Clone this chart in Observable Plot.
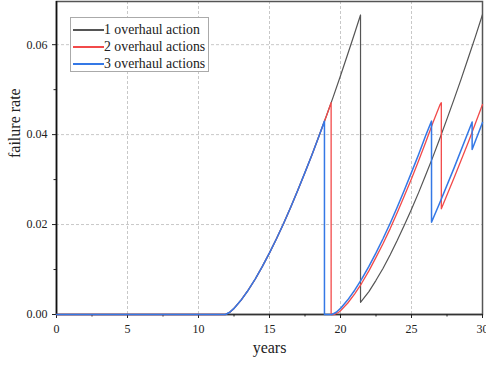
<!DOCTYPE html>
<html>
<head>
<meta charset="utf-8">
<script src="https://cdn.jsdelivr.net/npm/d3@7"></script>
<script src="https://cdn.jsdelivr.net/npm/@observablehq/plot@0.6"></script>
<style>
  html, body { margin: 0; padding: 0; background: white; }
  #wrap { position: relative; width: 486px; height: 365px; font-family: 'Liberation Serif', 'Times New Roman', serif; }
  #legend { position: absolute; left: 70px; top: 17px; width: 137px; height: 53px; border: 1px solid #aaa; background: white; font-size: 13.8px; color: #222; }
  .row { position: absolute; left: 2px; height: 17px; display: flex; align-items: center; white-space: nowrap; }
  .sw { width: 31px; height: 2px; margin-right: 0px; }
</style>
</head>
<body>
<div id="wrap"><div id="legend"></div></div>
<script>
// ----- data -----
const seriesNames = ["1 overhaul action", "2 overhaul actions", "3 overhaul actions"];
const seriesColors = ["#555555", "#f24a4a", "#3478e6"];
const seriesWidths = [1.2, 1.3, 1.5];

const years1 = [0, 11.9, 12.2, 12.5, 13, 13.5, 14, 14.5, 15, 15.5, 16, 16.5, 17, 17.5, 18, 18.5, 19, 19.5, 20, 20.5, 21, 21.41,
                21.41, 22, 22.5, 23, 23.5, 24, 24.5, 25, 25.5, 26, 26.5, 27, 27.5, 28, 28.5, 29, 29.5, 30];
const rate1  = [0, 0, 0.0005, 0.00135, 0.0032, 0.0054, 0.0079, 0.0107, 0.0137, 0.0169, 0.0203, 0.0239, 0.0277, 0.0316, 0.0356, 0.0398, 0.0441, 0.0485, 0.0531, 0.0578, 0.0626, 0.0666,
                0.0027, 0.0051, 0.0076, 0.0103, 0.0133, 0.0165, 0.0199, 0.0234, 0.0271, 0.0310, 0.0350, 0.0392, 0.0435, 0.0479, 0.0524, 0.0571, 0.0618, 0.0667];

const years2 = [0, 11.9, 12.2, 12.5, 13, 13.5, 14, 14.5, 15, 15.5, 16, 16.5, 17, 17.5, 18, 18.5, 19, 19.34,
                19.34, 19.57, 19.87, 20, 20.5, 21, 21.5, 22, 22.5, 23, 23.5, 24, 24.5, 25, 25.5, 26, 26.5, 27, 27.1,
                27.1, 28, 29, 30];
const rate2  = [0, 0, 0.0005, 0.00135, 0.0032, 0.0054, 0.0079, 0.0107, 0.0137, 0.0169, 0.0203, 0.0239, 0.0277, 0.0316, 0.0356, 0.0398, 0.0441, 0.0471,
                0, 0, 0.0005, 0.00085, 0.0025, 0.0046, 0.0070, 0.0097, 0.0127, 0.0158, 0.0191, 0.0227, 0.0264, 0.0302, 0.0342, 0.0383, 0.0426, 0.0466, 0.0471,
                0.0235, 0.0304, 0.0383, 0.0467];

const years3 = [0, 11.9, 12.2, 12.5, 13, 13.5, 14, 14.5, 15, 15.5, 16, 16.5, 17, 17.5, 18, 18.5, 18.87,
                18.87, 19.4, 19.7, 20, 20.5, 21, 21.5, 22, 22.5, 23, 23.5, 24, 24.5, 25, 25.5, 26, 26.41,
                26.41, 27, 28, 29.27,
                29.27, 30];
const rate3  = [0, 0, 0.0005, 0.00135, 0.0032, 0.0054, 0.0079, 0.0107, 0.0137, 0.0169, 0.0203, 0.0239, 0.0277, 0.0316, 0.0356, 0.0398, 0.0430,
                0, 0, 0.0005, 0.00135, 0.0032, 0.0054, 0.0079, 0.0107, 0.0137, 0.0169, 0.0203, 0.0239, 0.0277, 0.0316, 0.0356, 0.0398, 0.0430,
                0.0205, 0.0249, 0.0326, 0.0428,
                0.0367, 0.0427];

const xMajor = [0, 5, 10, 15, 20, 25, 30];
const xMinor = [2.5, 7.5, 12.5, 17.5, 22.5, 27.5];
const yMajor = [0, 0.02, 0.04, 0.06];
const yMinor = [0.01, 0.03, 0.05];
const xGrid = [5, 10, 15, 20, 25];
const yGrid = [0.02, 0.04, 0.06];
const xLabel = "years";
const yLabel = "failure rate";

// ----- build -----
const series = [[years1, rate1], [years2, rate2], [years3, rate3]].map(([t, v], i) =>
  t.map((d, j) => ({t: d, v: v[j], s: seriesNames[i]})));

const serif = "'Liberation Serif', 'Times New Roman', serif";

const chart = Plot.plot({
  width: 486,
  height: 365,
  marginLeft: 56,
  marginRight: 4,
  marginTop: 1,
  marginBottom: 51,
  style: {fontFamily: serif, fontSize: "12px", color: "#222", background: "white"},
  x: {domain: [0, 30]},
  y: {domain: [0, 0.0696]},
  marks: [
    Plot.gridX(xGrid, {stroke: "#c8c8c8", strokeOpacity: 1, strokeDasharray: "3,2"}),
    Plot.gridY(yGrid, {stroke: "#c8c8c8", strokeOpacity: 1, strokeDasharray: "3,2"}),
    Plot.frame({stroke: "#555", strokeWidth: 1.5}),
    Plot.ruleX([0], {stroke: "#111", strokeWidth: 1.6}),
    Plot.ruleY([0], {stroke: "#333", strokeWidth: 1.6}),
    Plot.axisX(xMajor, {tickSize: 4, tickPadding: 6, tickFormat: d => String(d), label: null, stroke: "#222"}),
    Plot.axisX(xMinor, {tickSize: 2.5, tickFormat: () => "", label: null, stroke: "#222"}),
    Plot.axisY(yMajor, {tickSize: 4, tickPadding: 5, tickFormat: d3.format(".2f"), label: null, stroke: "#222"}),
    Plot.axisY(yMinor, {tickSize: 2.5, tickFormat: () => "", label: null, stroke: "#222"}),
    ...series.map((d, i) => Plot.line(d, {x: "t", y: "v", stroke: seriesColors[i], strokeWidth: seriesWidths[i]})),
    Plot.text([xLabel], {frameAnchor: "bottom", dy: 38, fontSize: 16, fill: "#222"}),
    Plot.text([yLabel], {frameAnchor: "left", dx: -42, rotate: -90, fontSize: 16, fill: "#222"})
  ]
});
document.getElementById("wrap").prepend(chart);

const legend = document.getElementById("legend");
seriesNames.forEach((name, i) => {
  const row = document.createElement("div");
  row.className = "row";
  row.style.top = (3 + i * 17) + "px";
  const sw = document.createElement("div");
  sw.className = "sw";
  sw.style.background = seriesColors[i];
  const tx = document.createElement("span");
  tx.textContent = name;
  row.append(sw, tx);
  legend.append(row);
});
</script>
</body>
</html>
